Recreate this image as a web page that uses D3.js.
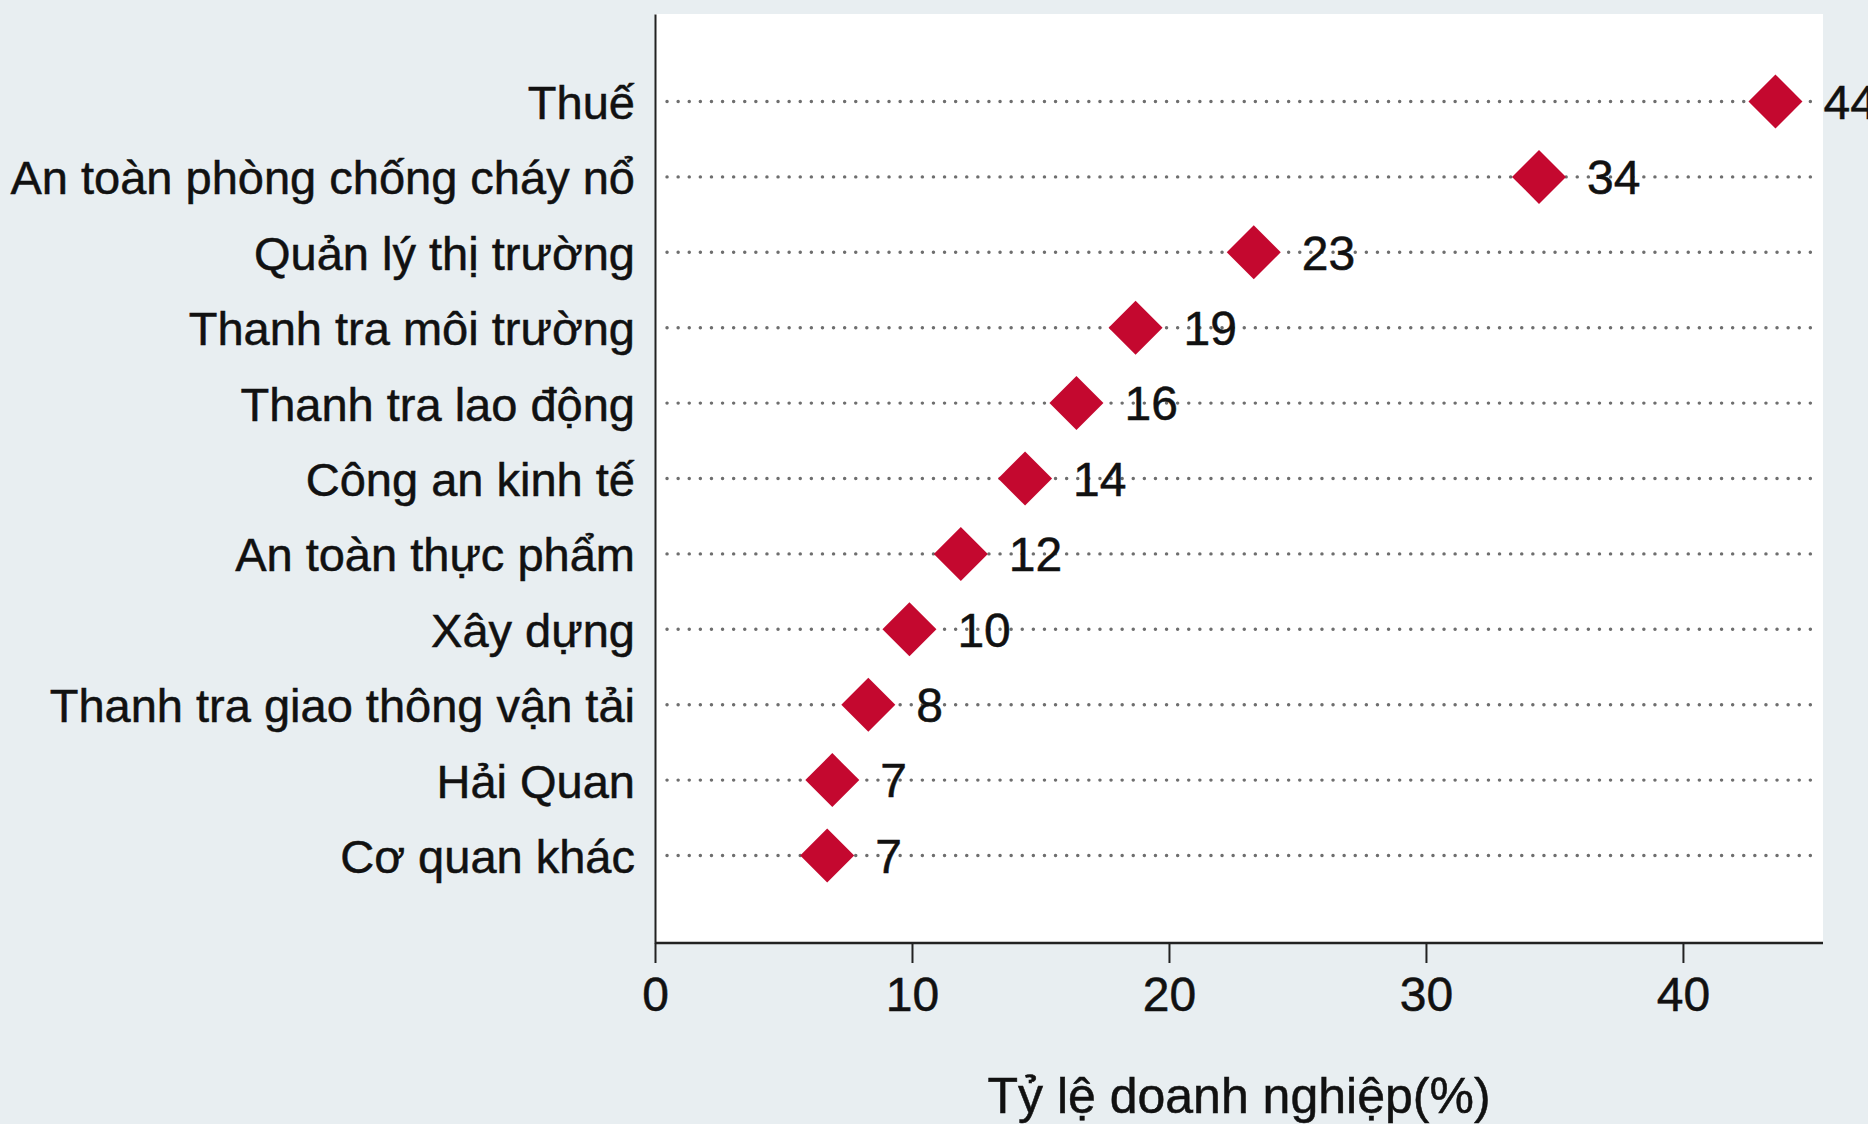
<!DOCTYPE html>
<html>
<head>
<meta charset="utf-8">
<script src="https://cdn.jsdelivr.net/npm/d3@7"></script>
<style>
  html, body { margin: 0; padding: 0; background: #e8eef1; }
  svg text { font-family: "Liberation Sans", Arial, sans-serif; fill: #111; stroke: #111; stroke-width: 0.5; }
</style>
</head>
<body>
<svg id="chart"></svg>
<script>
// agencies, top to bottom
const categories = [
  "Thuế",
  "An toàn phòng chống cháy nổ",
  "Quản lý thị trường",
  "Thanh tra môi trường",
  "Thanh tra lao động",
  "Công an kinh tế",
  "An toàn thực phẩm",
  "Xây dựng",
  "Thanh tra giao thông vận tải",
  "Hải Quan",
  "Cơ quan khác"
];
// share of firms (%)
const values = [43.6, 34.4, 23.3, 18.7, 16.4, 14.4, 11.9, 9.9, 8.3, 6.9, 6.7];
const xTicks = [0, 10, 20, 30, 40];
const xTitle = "Tỷ lệ doanh nghiệp(%)";

const config = {
  width: 1868,
  height: 1124,
  margin: {top: 14, right: 45, bottom: 181, left: 655}
};

const svg = d3.select('#chart')
  .attr('width', config.width)
  .attr('height', config.height);

const w = config.width - config.margin.left - config.margin.right;
const h = config.height - config.margin.top - config.margin.bottom;

const chart = svg.append('g')
  .attr('transform', `translate(${config.margin.left}, ${config.margin.top})`);

// plot region
chart.append('rect')
  .attr('width', w)
  .attr('height', h)
  .attr('fill', '#ffffff');

const xScale = d3.scaleLinear()
  .domain([0, 45.45])
  .range([0, w]);

const yScale = d3.scalePoint()
  .domain(categories)
  .range([0, h])
  .padding(1.16);

const data = categories.map((c, i) => ({cat: c, value: values[i]}));

// dotted guide lines
chart.selectAll('.guide')
  .data(data)
  .join('line')
  .attr('class', 'guide')
  .attr('x1', 12)
  .attr('x2', w - 9)
  .attr('y1', d => yScale(d.cat))
  .attr('y2', d => yScale(d.cat))
  .attr('stroke', '#6e6e6e')
  .attr('stroke-width', 3.4)
  .attr('stroke-linecap', 'round')
  .attr('stroke-dasharray', '0.1,11');

// x axis
const xAxis = d3.axisBottom(xScale)
  .tickValues(xTicks)
  .tickSize(20)
  .tickPadding(14)
  .tickFormat(d3.format('d'));

const xAxisGroup = chart.append('g')
  .attr('transform', `translate(0, ${h})`)
  .call(xAxis);
xAxisGroup.select('.domain').remove();
xAxisGroup.append('line')
  .attr('x1', 0).attr('x2', w)
  .attr('stroke', '#222').attr('stroke-width', 2.5);
xAxisGroup.selectAll('.tick line').attr('stroke', '#222').attr('stroke-width', 2);
xAxisGroup.selectAll('.tick text')
  .attr('font-size', 48)
  .attr('fill', '#111')
  .attr('dy', '0.71em');

// y axis
const yAxis = d3.axisLeft(yScale)
  .tickSize(0)
  .tickPadding(20);

const yAxisGroup = chart.append('g').call(yAxis);
yAxisGroup.select('.domain')
  .attr('stroke', '#222').attr('stroke-width', 2);
yAxisGroup.selectAll('.tick text')
  .attr('font-size', 47)
  .attr('fill', '#111')
  .attr('dy', '0.36em');

// diamonds
const r = 27;
chart.selectAll('.dot')
  .data(data)
  .join('path')
  .attr('class', 'dot')
  .attr('d', `M0,${-r}L${r},0L0,${r}L${-r},0Z`)
  .attr('transform', d => `translate(${xScale(d.value)}, ${yScale(d.cat)})`)
  .attr('fill', '#c4082f');

// value labels
chart.selectAll('.val')
  .data(data)
  .join('text')
  .attr('class', 'val')
  .attr('x', d => xScale(d.value) + 48)
  .attr('y', d => yScale(d.cat))
  .attr('dy', '0.36em')
  .attr('font-size', 48)
  .text(d => d3.format('.0f')(d.value));

// axis title
svg.append('text')
  .attr('x', config.margin.left + w / 2)
  .attr('y', 1113)
  .attr('text-anchor', 'middle')
  .attr('font-size', 50)
  .text(xTitle);
</script>
</body>
</html>
